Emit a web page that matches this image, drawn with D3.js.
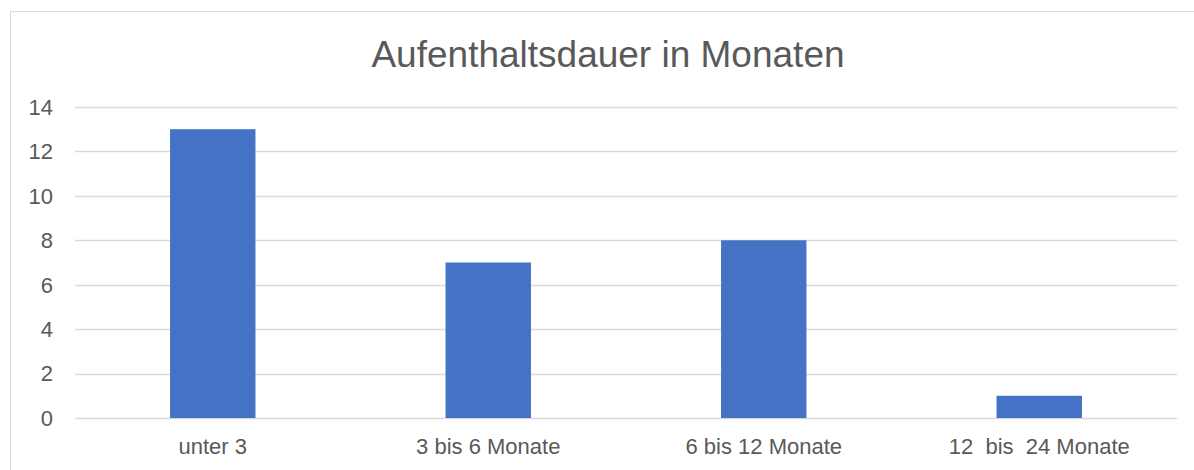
<!DOCTYPE html>
<html>
<head>
<meta charset="utf-8">
<script src="https://cdn.jsdelivr.net/npm/d3@7"></script>
<style>
  body { margin: 0; background: #fff; }
  text { font-family: "Liberation Sans", Arial, sans-serif; fill: #595959; }
</style>
</head>
<body>
<div id="main"></div>
<script>
var categories = ["unter 3", "3 bis 6 Monate", "6 bis 12 Monate", "12  bis  24 Monate"];
var values = [13, 7, 8, 1];
var yTicks = [0, 2, 4, 6, 8, 10, 12, 14];

function createGraph() {
  var width = 1194;
  var height = 470;
  var left = 75, right = 1177, top = 107, bottom = 418;

  var svg = d3.select("#main").append("svg")
    .attr("width", width)
    .attr("height", height);

  // chart frame (runs off the right and bottom of the picture)
  svg.append("rect")
    .attr("x", 10.5).attr("y", 11.5)
    .attr("width", 1200).attr("height", 480)
    .attr("fill", "none")
    .attr("stroke", "#d9d9d9");

  svg.append("text")
    .attr("x", 608).attr("y", 67)
    .attr("text-anchor", "middle")
    .style("font-size", "37px")
    .text("Aufenthaltsdauer in Monaten");

  var x = d3.scaleBand()
    .domain(categories)
    .range([left, right])
    .paddingInner(0.69)
    .paddingOuter(0.345);

  var y = d3.scaleLinear()
    .domain([0, 14])
    .range([bottom, top]);

  // gridlines
  svg.append("g").selectAll("line")
    .data(yTicks)
    .enter().append("line")
    .attr("x1", left).attr("x2", right)
    .attr("y1", function(d) { return Math.round(y(d)) + 0.5; })
    .attr("y2", function(d) { return Math.round(y(d)) + 0.5; })
    .attr("stroke", "#d9d9d9")
    .attr("stroke-width", 1.3);

  // y labels
  svg.append("g").selectAll("text")
    .data(yTicks)
    .enter().append("text")
    .attr("x", 53)
    .attr("y", function(d) { return y(d); })
    .attr("dy", "0.36em")
    .attr("text-anchor", "end")
    .style("font-size", "22px")
    .text(function(d) { return d; });

  // bars
  svg.append("g").selectAll("rect")
    .data(values)
    .enter().append("rect")
    .attr("x", function(d, i) { return x(categories[i]); })
    .attr("y", function(d) { return y(d); })
    .attr("width", x.bandwidth())
    .attr("height", function(d) { return y(0) - y(d); })
    .attr("fill", "#4472c4");

  // x labels
  svg.append("g").selectAll("text")
    .data(categories)
    .enter().append("text")
    .attr("x", function(d) { return x(d) + x.bandwidth() / 2; })
    .attr("y", 454)
    .attr("text-anchor", "middle")
    .attr("xml:space", "preserve")
    .style("white-space", "pre")
    .style("font-size", "22px")
    .text(function(d) { return d; });
}

createGraph();
</script>
</body>
</html>
